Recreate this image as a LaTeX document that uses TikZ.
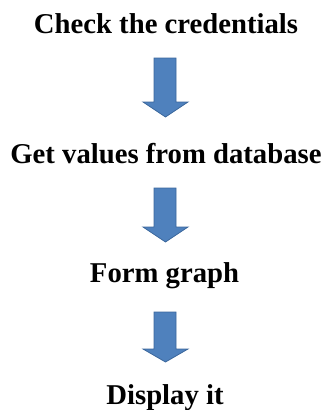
\documentclass[tikz,border=0pt]{standalone}
\usepackage{fontspec}
\setmainfont{Liberation Serif}
\definecolor{arrowfill}{HTML}{4F81BD}
\definecolor{arrowline}{HTML}{3B679C}
\begin{document}
\begin{tikzpicture}[x=1pt,y=-1pt,
  steplabel/.style={anchor=base,inner sep=0pt,font=\fontsize{28.7}{32}\selectfont\bfseries},
  blockarrow/.style={fill=arrowfill,draw=arrowline,line width=0.8pt,line join=miter}]
\useasboundingbox (0,0) rectangle (325,410);
\node[steplabel] (s1) at (166,33) {Check the credentials};
\node[steplabel] (s2) at (166,163) {Get values from database};
\node[steplabel] (s3) at (164.5,282) {Form graph};
\node[steplabel] (s4) at (165,404) {Display it};
% arrow 1
\draw[blockarrow] (154,58) -- (176,58) -- (176,102) -- (188,102) -- (165.5,117) -- (143,102) -- (154,102) -- cycle;
% arrow 2
\draw[blockarrow] (154,188) -- (176,188) -- (176,227) -- (188,227) -- (165.5,242) -- (143,227) -- (154,227) -- cycle;
% arrow 3
\draw[blockarrow] (154,312) -- (176,312) -- (176,349) -- (188,349) -- (165.5,362) -- (143,349) -- (154,349) -- cycle;
\end{tikzpicture}
\end{document}
